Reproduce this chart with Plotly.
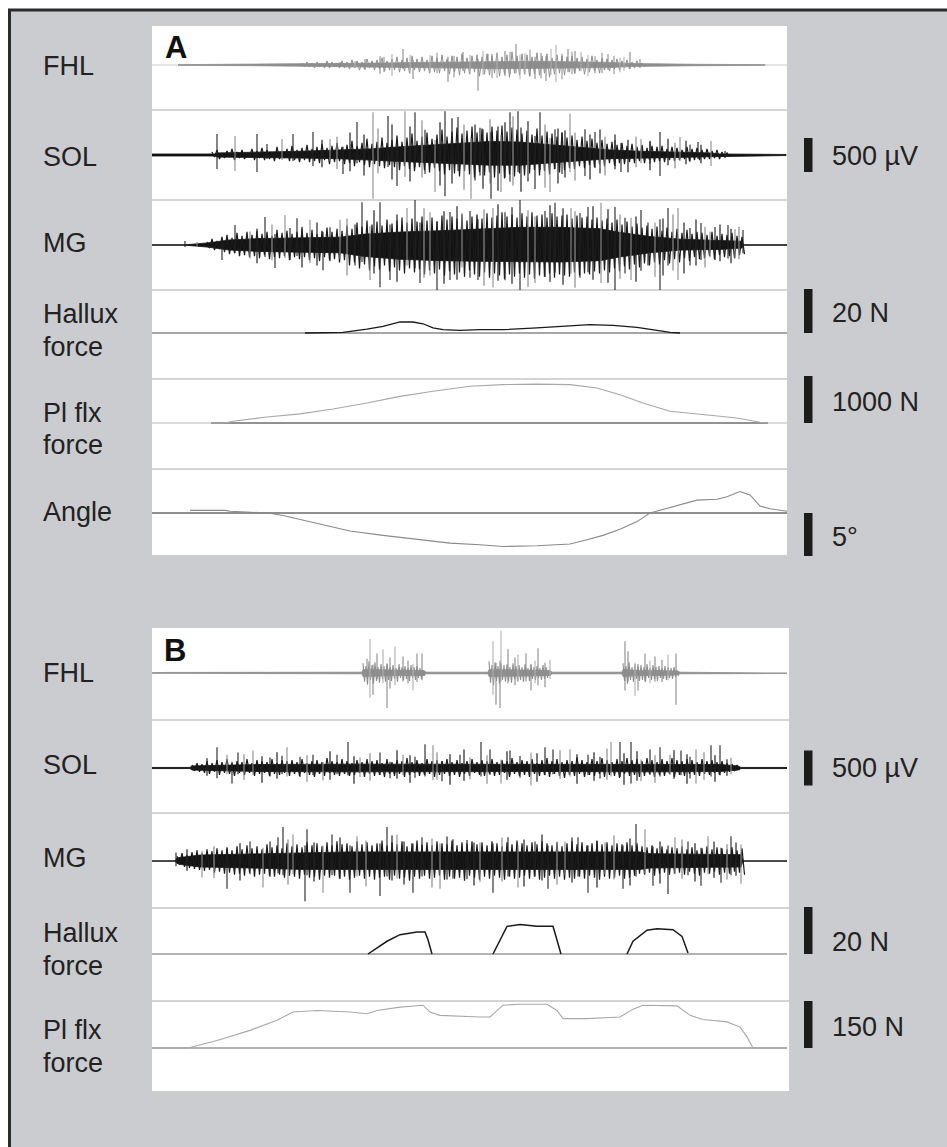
import plotly.graph_objects as go

# ================= data =================
# time: 10 ms ticks from the start of each window; EMG in µV, forces in N, angle in degrees
# ---------- Panel A ----------
a_fhl_core_t = [26, 98, 148, 198, 228, 268, 308, 348, 388, 428, 458, 478, 508, 548, 613]
a_fhl_core_amp = [5, 10, 15, 20, 28, 38, 45, 55, 55, 45, 38, 22, 15, 10, 5]
a_fhl_tex_start, a_fhl_tex_step = 150, 5
a_fhl_tex_hi = [30, 45, 30, 45, 30, 60, 45, 30, 60,
                45, 75, 60, 45, 90, 60, 75, 105, 60,
                90, 120, 75, 105, 135, 90, 120, 75, 135,
                105, 150, 90, 135, 120, 165, 105, 135, 150,
                120, 165, 135, 180, 120, 150, 195, 135, 165,
                150, 120, 180, 135, 165, 105, 150, 135, 120,
                135, 105, 120, 90, 135, 75, 105, 90, 75,
                90, 60, 75, 45, 60, 30]
a_fhl_tex_lo = [30, 30, 45, 30, 45, 45, 30, 45, 45,
                60, 45, 75, 60, 45, 75, 60, 90, 75,
                75, 105, 90, 120, 75, 105, 90, 120, 105,
                120, 90, 135, 105, 150, 120, 135, 105, 165,
                135, 150, 120, 165, 135, 180, 120, 150, 135,
                165, 135, 150, 120, 180, 135, 120, 150, 105,
                120, 90, 135, 105, 90, 120, 75, 90, 60,
                75, 45, 60, 45, 30, 30]
a_fhl_spk_t = [188, 203, 213, 228, 240, 251, 261, 278, 296, 311, 318, 326, 336, 345, 353, 364, 373, 383, 394, 404, 416, 423, 429, 443, 456, 468, 478, 488]
a_fhl_spk_hi = [45, 60, 90, 130, 160, 235, 75, 145, 120, 190, 150, 90, 160, 175, 205, 310, 175, 120, 130, 295, 235, 205, 190, 130, 160, 105, 190, 90]
a_fhl_spk_lo = [30, 45, 75, 130, 160, 60, 205, 120, 250, 90, 130, 380, 75, 190, 160, 120, 145, 205, 235, 250, 105, 130, 90, 120, 75, 105, 60, 45]
a_fhl_spk2_t = [232, 258, 285, 302, 331, 340, 358, 368, 378, 389, 399, 410, 420, 436, 450, 462, 472]
a_fhl_spk2_hi = [120, 150, 180, 135, 210, 165, 195, 150, 225, 180, 240, 165, 195, 150, 180, 135, 120]
a_fhl_spk2_lo = [105, 135, 120, 180, 150, 195, 135, 210, 165, 195, 150, 210, 135, 165, 120, 135, 90]

a_sol_core_t = [0, 63, 65, 108, 148, 188, 218, 248, 278, 308, 338, 368, 398, 428, 458, 488, 528, 559, 568, 634]
a_sol_core_hi = [15, 15, 30, 40, 55, 75, 90, 120, 150, 180, 200, 190, 150, 110, 75, 55, 45, 30, 15, 8]
a_sol_core_lo = [15, 15, 30, 40, 45, 55, 75, 95, 115, 135, 150, 150, 115, 85, 55, 45, 35, 25, 15, 8]
a_sol_tex_start, a_sol_tex_step = 60, 5
a_sol_tex_hi = [45, 75, 30, 60, 90, 45, 75, 30, 90,
                60, 105, 75, 45, 120, 60, 90, 135, 75,
                105, 150, 90, 120, 165, 105, 135, 180, 120,
                150, 210, 135, 180, 240, 165, 195, 255, 180,
                225, 285, 195, 255, 315, 210, 270, 330, 240,
                300, 375, 270, 345, 405, 315, 360, 420, 330,
                390, 330, 420, 360, 435, 345, 405, 375, 315,
                360, 300, 390, 285, 345, 315, 270, 330, 255,
                285, 225, 270, 210, 240, 180, 225, 165, 195,
                150, 180, 135, 165, 120, 150, 105, 135, 120,
                135, 90, 120, 105, 75, 120, 90, 105, 75,
                90, 60, 75, 45, 30]
a_sol_tex_lo = [30, 60, 45, 30, 75, 45, 60, 30, 75,
                45, 75, 60, 90, 60, 45, 90, 75, 105,
                75, 105, 90, 120, 75, 135, 105, 90, 135,
                120, 165, 105, 150, 180, 135, 165, 195, 150,
                180, 225, 165, 210, 240, 180, 225, 255, 195,
                240, 285, 225, 270, 315, 240, 285, 330, 255,
                300, 255, 330, 270, 345, 285, 315, 270, 300,
                270, 225, 300, 240, 285, 210, 255, 225, 195,
                210, 165, 195, 150, 180, 135, 165, 120, 150,
                120, 135, 105, 120, 90, 120, 75, 105, 90,
                105, 75, 90, 75, 60, 90, 75, 75, 60,
                60, 45, 60, 30, 30]
a_sol_spk_t = [65, 83, 105, 115, 130, 141, 161, 178, 191, 205, 221, 236, 245, 253, 263, 273, 283, 293, 306, 319, 328, 339, 349, 358, 366, 376, 383, 388, 398, 403, 410, 418, 433, 443, 448, 463, 469, 489, 498, 508, 528, 538, 546, 559, 573]
a_sol_spk_hi = [310, 280, 310, 160, 235, 310, 340, 235, 120, 485, 630, 575, 175, 645, 630, 370, 220, 645, 560, 250, 400, 340, 295, 630, 645, 420, 280, 630, 250, 380, 330, 605, 380, 340, 250, 220, 175, 235, 190, 340, 265, 150, 190, 205, 60]
a_sol_spk_lo = [205, 235, 250, 60, 75, 90, 160, 90, 280, 120, 645, 175, 455, 325, 175, 280, 545, 605, 235, 645, 300, 645, 545, 395, 250, 330, 500, 220, 545, 205, 280, 250, 310, 190, 200, 160, 250, 120, 130, 310, 90, 100, 60, 160, 45]
a_sol_spk2_t = [170, 185, 198, 212, 226, 240, 258, 270, 288, 300, 312, 323, 331, 338, 346, 353, 361, 369, 376, 393, 406, 413, 423, 438, 448, 453, 463, 476, 484, 498, 516, 523, 534, 549]
a_sol_spk2_hi = [225, 270, 330, 300, 390, 450, 420, 510, 480, 540, 450, 450, 375, 525, 420, 480, 570, 405, 495, 450, 390, 360, 330, 300, 375, 270, 300, 225, 270, 210, 240, 180, 210, 150]
a_sol_spk2_lo = [180, 210, 240, 300, 270, 360, 390, 330, 450, 420, 510, 375, 495, 420, 525, 330, 450, 540, 390, 480, 420, 330, 375, 360, 270, 300, 210, 255, 180, 225, 150, 195, 135, 120]

a_mg_core_t = [0, 31, 55, 78, 108, 148, 188, 213, 248, 288, 328, 368, 408, 448, 466, 498, 529, 568, 590, 591, 635]
a_mg_core_hi = [0, 0, 30, 75, 95, 105, 115, 160, 190, 210, 240, 260, 260, 240, 190, 125, 85, 65, 55, 0, 0]
a_mg_core_lo = [0, 0, 30, 75, 95, 105, 115, 170, 210, 230, 240, 250, 250, 230, 180, 115, 75, 65, 45, 0, 0]
a_mg_tex_start, a_mg_tex_step = 55, 5
a_mg_tex_hi = [45, 90, 60, 120, 150, 105, 180, 135, 195,
               150, 210, 165, 195, 135, 225, 180, 210, 165,
               195, 240, 180, 225, 165, 210, 255, 195, 240,
               210, 285, 240, 330, 270, 360, 300, 345, 285,
               375, 315, 360, 405, 330, 390, 345, 420, 360,
               405, 345, 435, 375, 420, 390, 450, 360, 420,
               450, 390, 465, 405, 435, 480, 420, 450, 405,
               465, 420, 480, 435, 450, 405, 465, 420, 435,
               450, 390, 435, 405, 420, 375, 405, 360, 390,
               330, 375, 300, 345, 270, 315, 255, 285, 240,
               270, 210, 255, 195, 240, 180, 225, 165, 195,
               180, 150, 195, 135, 165, 150, 180, 135, 120]
a_mg_tex_lo = [45, 75, 60, 105, 135, 120, 165, 150, 180,
               165, 195, 150, 210, 180, 195, 165, 225, 180,
               210, 180, 225, 195, 240, 180, 225, 210, 255,
               225, 300, 255, 345, 285, 375, 315, 360, 300,
               390, 330, 375, 420, 345, 405, 360, 435, 375,
               420, 360, 450, 390, 435, 405, 465, 375, 435,
               465, 405, 480, 420, 450, 495, 435, 465, 420,
               480, 435, 495, 450, 465, 420, 480, 435, 450,
               465, 405, 450, 420, 435, 390, 420, 375, 405,
               345, 390, 315, 360, 285, 330, 270, 300, 255,
               285, 225, 270, 210, 255, 195, 240, 180, 210,
               195, 165, 210, 150, 180, 165, 195, 150, 135]
a_mg_spk_t = [33, 45, 70, 83, 98, 113, 123, 133, 138, 145, 158, 171, 178, 188, 203, 210, 218, 228, 238, 255, 263, 268, 278, 285, 298, 310, 318, 326, 341, 353, 368, 383, 393, 403, 419, 428, 436, 449, 463, 473, 479, 489, 496, 503, 508, 516, 526, 538, 549, 558, 563, 576, 583, 591]
a_mg_spk_hi = [60, 45, 90, 295, 200, 410, 160, 440, 250, 395, 370, 190, 260, 370, 300, 630, 280, 630, 300, 545, 660, 330, 480, 350, 485, 470, 500, 380, 545, 480, 660, 420, 500, 620, 545, 470, 560, 620, 560, 400, 400, 515, 330, 330, 380, 545, 545, 250, 325, 200, 265, 295, 230, 220]
a_mg_spk_lo = [30, 30, 220, 120, 200, 175, 340, 190, 220, 160, 265, 370, 240, 205, 300, 250, 515, 620, 515, 300, 340, 560, 450, 660, 515, 330, 480, 515, 620, 520, 660, 560, 470, 400, 420, 480, 400, 560, 660, 420, 515, 380, 300, 470, 660, 300, 515, 300, 220, 180, 220, 200, 200, 120]
a_mg_spk2_t = [105, 120, 150, 165, 195, 222, 245, 272, 292, 305, 332, 346, 360, 376, 398, 411, 423, 441, 456, 468, 484, 511, 521, 532, 544, 553, 568, 579, 587]
a_mg_spk2_hi = [240, 300, 270, 330, 390, 510, 450, 540, 495, 570, 525, 600, 555, 510, 585, 540, 495, 570, 525, 450, 420, 390, 450, 330, 375, 270, 300, 240, 270]
a_mg_spk2_lo = [270, 225, 330, 300, 450, 420, 540, 480, 570, 510, 600, 525, 570, 615, 540, 585, 630, 510, 555, 495, 540, 450, 375, 420, 300, 330, 240, 270, 210]

a_hal_t = [153, 188, 191, 215, 231, 248, 261, 271, 281, 291, 308, 328, 351, 385, 418, 438, 461, 485, 505, 518, 528]
a_hal_n = [0, 0, 0.3, 1.8, 3.0, 5.1, 5.0, 4.2, 2.3, 1.5, 1.2, 1.5, 1.5, 2.3, 3.3, 3.8, 3.5, 2.6, 1.2, 0.3, 0]

a_plf_t = [59, 73, 81, 115, 148, 181, 215, 248, 281, 318, 351, 385, 418, 445, 468, 491, 518, 551, 585, 608, 616]
a_plf_n = [0, 0, 35, 125, 190, 290, 415, 555, 660, 765, 800, 810, 800, 730, 590, 415, 245, 175, 105, 15, 0]

a_ang_t = [38, 73, 78, 116, 131, 165, 198, 231, 265, 298, 328, 351, 385, 418, 435, 451, 468, 485, 498, 518, 545, 565, 575, 588, 598, 608, 618, 635]
a_ang_deg = [0.3, 0.3, 0.2, 0, -0.3, -1.2, -2.1, -2.6, -3.1, -3.5, -3.7, -3.9, -3.8, -3.6, -3.1, -2.6, -1.9, -1.0, 0, 0.6, 1.5, 1.6, 1.9, 2.5, 2.1, 0.8, 0.5, 0.2]

# ---------- Panel B ----------
b_fhl_core_t = [0, 13, 208, 210, 211, 228, 248, 272, 274, 336, 337, 358, 378, 398, 400, 470, 471, 488, 508, 526, 528, 613, 637]
b_fhl_core_amp = [4, 8, 12, 12, 50, 45, 35, 35, 12, 12, 50, 45, 35, 35, 12, 12, 50, 35, 35, 25, 12, 8, 4]
b_fhl_burst_start = [211, 337, 471]
b_fhl_burst_step = 3
b_fhl_b1_hi = [140, 98, 168, 112, 154, 84, 126, 98, 140, 84, 112, 70, 126, 84, 98, 70, 112, 84, 98, 70, 42]
b_fhl_b1_lo = [126, 168, 98, 154, 112, 140, 84, 126, 98, 112, 84, 126, 70, 98, 84, 112, 70, 98, 70, 84, 42]
b_fhl_b2_hi = [168, 112, 154, 98, 140, 112, 126, 84, 140, 98, 112, 84, 126, 70, 112, 84, 98, 70, 112, 84, 42]
b_fhl_b2_lo = [140, 182, 112, 154, 98, 126, 112, 140, 84, 112, 98, 126, 70, 112, 84, 98, 70, 98, 84, 70, 42]
b_fhl_b3_hi = [140, 98, 154, 84, 126, 98, 112, 84, 126, 70, 112, 84, 98, 70, 98, 84, 70, 84, 42]
b_fhl_b3_lo = [112, 154, 98, 126, 84, 112, 98, 126, 70, 98, 84, 112, 70, 84, 98, 70, 84, 56, 42]
b_fhl_spk_t = [215, 218, 221, 225, 231, 235, 238, 243, 251, 256, 261, 265, 270, 341, 344, 348, 349, 356, 363, 366, 374, 379, 383, 386, 393, 398, 473, 476, 483, 486, 493, 498, 503, 510, 516, 524]
b_fhl_spk_hi = [205, 485, 120, 280, 340, 120, 220, 380, 235, 175, 130, 280, 280, 455, 145, 175, 605, 340, 220, 265, 280, 130, 175, 355, 145, 190, 455, 310, 145, 130, 280, 175, 235, 190, 265, 280]
b_fhl_spk_lo = [45, 355, 310, 90, 145, 500, 220, 175, 120, 145, 250, 130, 105, 310, 455, 500, 120, 145, 175, 130, 120, 250, 145, 175, 205, 90, 250, 120, 325, 250, 120, 145, 120, 130, 105, 455]

b_sol_core_t = [0, 38, 40, 68, 108, 200, 300, 400, 500, 568, 586, 589, 637]
b_sol_core_amp = [8, 8, 30, 40, 50, 55, 55, 50, 55, 50, 30, 8, 8]
b_sol_tex_start, b_sol_tex_step = 40, 5
b_sol_tex_hi = [42, 70, 56, 98, 70, 112, 84, 126, 70, 98,
                84, 126, 70, 112, 98, 84, 126, 70, 112, 98,
                112, 84, 126, 70, 98, 112, 84, 140, 98, 84,
                126, 98, 70, 112, 84, 126, 98, 112, 70, 126,
                84, 112, 98, 140, 84, 112, 70, 126, 98, 112,
                98, 126, 84, 112, 70, 98, 126, 84, 112, 98,
                126, 84, 112, 98, 140, 84, 112, 98, 126, 70,
                112, 140, 98, 126, 84, 112, 98, 154, 112, 84,
                126, 98, 140, 112, 84, 126, 98, 140, 112, 126,
                98, 140, 112, 84, 126, 98, 140, 112, 98, 126,
                112, 84, 126, 98, 112, 84, 98, 70, 56, 42]
b_sol_tex_lo = [42, 56, 70, 84, 56, 98, 70, 84, 112, 70,
                98, 70, 112, 84, 70, 112, 84, 98, 70, 112,
                84, 112, 70, 98, 126, 84, 112, 70, 98, 112,
                84, 112, 98, 70, 126, 84, 112, 98, 126, 84,
                112, 84, 126, 98, 70, 112, 98, 84, 126, 98,
                84, 112, 98, 126, 84, 112, 70, 98, 112, 84,
                112, 98, 70, 126, 84, 112, 98, 126, 84, 112,
                98, 126, 84, 112, 140, 98, 112, 84, 126, 98,
                112, 84, 126, 98, 112, 140, 84, 112, 98, 126,
                112, 84, 126, 98, 112, 84, 126, 98, 112, 84,
                98, 112, 84, 98, 70, 98, 70, 56, 42, 28]
b_sol_spk_t = [65, 75, 80, 86, 101, 118, 130, 135, 148, 161, 171, 185, 196, 208, 228, 238, 251, 263, 273, 281, 290, 308, 318, 329, 338, 349, 358, 368, 379, 393, 401, 418, 436, 448, 459, 468, 479, 489, 498, 508, 518, 529, 538, 544, 559, 568, 579]
b_sol_spk_hi = [295, 190, 90, 220, 250, 150, 175, 295, 160, 190, 90, 190, 370, 150, 220, 90, 190, 160, 340, 325, 100, 190, 150, 370, 265, 120, 250, 170, 220, 295, 265, 265, 190, 160, 370, 370, 370, 120, 265, 295, 190, 250, 160, 265, 325, 325, 145]
b_sol_spk_lo = [145, 90, 220, 90, 100, 120, 90, 120, 130, 100, 175, 90, 105, 130, 100, 145, 100, 140, 120, 175, 190, 90, 160, 120, 100, 220, 100, 140, 250, 105, 90, 120, 100, 150, 120, 130, 220, 190, 100, 120, 100, 105, 150, 220, 120, 105, 90]
b_sol_spk2_t = [55, 92, 110, 125, 155, 178, 202, 218, 245, 258, 285, 298, 312, 335, 355, 385, 408, 425, 442, 455, 472, 485, 503, 522, 535, 552, 563, 575]
b_sol_spk2_hi = [140, 196, 168, 224, 182, 238, 168, 210, 252, 182, 224, 196, 266, 182, 238, 210, 252, 196, 224, 280, 210, 238, 182, 252, 196, 224, 182, 126]
b_sol_spk2_lo = [112, 168, 210, 154, 196, 168, 224, 182, 154, 210, 168, 238, 182, 224, 168, 196, 154, 224, 182, 168, 238, 182, 210, 154, 224, 168, 196, 112]

b_mg_core_t = [0, 23, 25, 31, 48, 98, 148, 198, 268, 348, 448, 488, 498, 529, 568, 589, 591, 637]
b_mg_core_hi = [0, 0, 45, 55, 85, 100, 120, 130, 130, 130, 130, 130, 105, 100, 95, 90, 0, 0]
b_mg_core_lo = [0, 0, 35, 55, 85, 100, 120, 130, 120, 120, 120, 120, 100, 95, 90, 85, 0, 0]
b_mg_tex_start, b_mg_tex_step = 25, 5
b_mg_tex_hi = [70, 112, 84, 126, 154, 112, 168, 140, 182, 154,
               196, 154, 210, 168, 224, 182, 210, 168, 238, 196,
               224, 182, 252, 210, 238, 196, 266, 224, 252, 210,
               266, 224, 280, 238, 252, 210, 280, 238, 266, 224,
               252, 294, 224, 266, 238, 280, 210, 252, 294, 238,
               266, 224, 280, 252, 238, 294, 224, 266, 252, 280,
               238, 266, 224, 280, 252, 210, 266, 238, 294, 252,
               224, 266, 238, 280, 252, 224, 266, 210, 252, 280,
               238, 266, 224, 252, 280, 238, 266, 224, 252, 238,
               266, 224, 252, 210, 196, 224, 182, 210, 168, 196,
               182, 210, 168, 196, 154, 182, 210, 168, 196, 182,
               168, 196, 154, 182]
b_mg_tex_lo = [56, 84, 98, 112, 126, 140, 126, 168, 154, 182,
               168, 196, 182, 210, 168, 224, 196, 182, 210, 224,
               196, 238, 210, 224, 252, 196, 238, 224, 266, 210,
               238, 210, 252, 224, 266, 238, 210, 252, 224, 266,
               238, 224, 266, 210, 252, 238, 280, 224, 252, 210,
               252, 238, 210, 266, 224, 252, 238, 280, 210, 238,
               266, 224, 252, 210, 238, 266, 224, 252, 238, 210,
               252, 224, 266, 238, 210, 252, 224, 266, 238, 252,
               224, 252, 210, 238, 266, 224, 252, 238, 210, 252,
               238, 210, 182, 196, 168, 210, 182, 168, 196, 182,
               168, 196, 154, 182, 210, 168, 182, 154, 196, 168,
               182, 154, 168, 196]
b_mg_spk_t = [24, 50, 75, 98, 111, 126, 131, 141, 153, 155, 171, 180, 198, 205, 228, 235, 245, 261, 270, 288, 301, 315, 328, 341, 356, 366, 383, 396, 413, 426, 436, 453, 471, 484, 493, 501, 516, 523, 536, 549, 556, 569, 579, 589]
b_mg_spk_hi = [120, 145, 175, 280, 190, 340, 485, 380, 220, 455, 220, 380, 220, 355, 250, 485, 380, 250, 340, 250, 310, 300, 260, 250, 340, 220, 280, 220, 280, 340, 220, 265, 220, 530, 455, 205, 220, 340, 280, 190, 355, 190, 355, 235]
b_mg_spk_lo = [75, 235, 395, 190, 380, 175, 205, 190, 575, 205, 455, 205, 455, 220, 500, 220, 250, 455, 220, 395, 250, 260, 300, 455, 220, 380, 220, 395, 205, 220, 455, 190, 395, 220, 190, 355, 470, 190, 205, 355, 190, 310, 205, 325]
b_mg_spk2_t = [35, 62, 88, 118, 136, 162, 188, 214, 240, 252, 280, 295, 322, 350, 372, 390, 405, 420, 445, 462, 478, 508, 530, 543, 562, 575, 584]
b_mg_spk2_hi = [168, 210, 252, 280, 308, 266, 336, 294, 364, 280, 322, 350, 266, 336, 308, 378, 280, 336, 294, 364, 322, 280, 308, 252, 280, 238, 266]
b_mg_spk2_lo = [140, 238, 280, 224, 336, 294, 252, 364, 280, 336, 378, 266, 350, 294, 364, 280, 336, 308, 378, 266, 350, 322, 252, 294, 238, 266, 210]

b_hal_t = [216, 225, 235, 248, 265, 273, 276, 280, None, 341, 348, 355, 368, 385, 401, 405, 409, None, 475, 481, 495, 505, 521, 530, 536]
b_hal_n = [0, 2.4, 5.2, 7.9, 9.0, 9.0, 5.8, 0, None, 0, 5.8, 11.3, 12.0, 11.3, 11.3, 5.8, 0, None, 0, 5.2, 9.7, 10.3, 9.9, 7.2, 0.4]

b_plf_t = [0, 36, 65, 98, 125, 141, 165, 198, 215, 225, 248, 271, 278, 288, 328, 338, 351, 368, 395, 405, 411, 435, 468, 481, 491, 525, 538, 551, 575, 588, 595, 601, 637]
b_plf_n = [0, 0, 23, 54, 85, 110, 115, 110, 105, 115, 125, 131, 110, 100, 95, 95, 131, 134, 134, 115, 90, 90, 95, 119, 131, 129, 100, 87, 80, 64, 34, 0, 0]

row_labels = ["FHL", "SOL", "MG", "Hallux", "force", "Pl flx", "force", "Angle",
              "FHL", "SOL", "MG", "Hallux", "force", "Pl flx", "force"]
scale_texts = ["500 µV", "20 N", "1000 N", "5°", "500 µV", "20 N", "150 N"]
scale_values = [500, 20, 1000, 5, 500, 20, 150]

# ================= layout helpers =================
W, H = 947, 1147
def fy(p):
    return 1 - p / H
def fx(p):
    return p / W

HH = 47  # half height of each strip (px)
rows = [  # (baseline px, units per px)
    (65, 500 / 34), (155, 500 / 34), (245, 500 / 34),
    (333, 20 / 44), (423, 1000 / 48), (513, 5 / 43),
    (673, 500 / 35), (768, 500 / 35), (861, 500 / 35),
    (954, 20 / 49), (1048, 150 / 49),
]

fig = go.Figure()
layout_axes = {}
for i, (yc, k) in enumerate(rows):
    name = "yaxis" if i == 0 else f"yaxis{i + 1}"
    layout_axes[name] = dict(domain=[fy(yc + HH), fy(yc - HH)], range=[-HH * k, HH * k],
                             visible=False, fixedrange=True, anchor="x")
def yref(i):
    return "y" if i == 0 else f"y{i + 1}"


def add_core(i, t, hi, lo, col):
    fig.add_trace(go.Scatter(x=t + t[::-1], y=hi + [-v for v in lo[::-1]], mode="lines",
                             fill="toself", fillcolor=col, line=dict(color=col, width=0.8),
                             yaxis=yref(i), hoverinfo="skip", showlegend=False))

def add_texture(i, start, step, hi, lo, col, width=1.2):
    xs, ys = [], []
    for j, (h, l) in enumerate(zip(hi, lo)):
        t0 = start + step * j
        xs += [t0, t0 + step / 2]
        ys += [h, -l]
    fig.add_trace(go.Scatter(x=xs, y=ys, mode="lines", line=dict(color=col, width=width),
                             yaxis=yref(i), hoverinfo="skip", showlegend=False))

def add_spikes(i, spk_t, spk_hi, spk_lo, dark_col, light_col, width=1.1):
    for grp, col in ((1, light_col), (0, dark_col)):
        xs, ys = [], []
        for j, (ti, h, l) in enumerate(zip(spk_t, spk_hi, spk_lo)):
            if (j % 3 == 1) == bool(grp):
                xs += [ti, ti, None]
                ys += [-l, h, None]
        fig.add_trace(go.Scatter(x=xs, y=ys, mode="lines", line=dict(color=col, width=width),
                                 yaxis=yref(i), hoverinfo="skip", showlegend=False))

def add_line(i, t, v, col, width):
    fig.add_trace(go.Scatter(x=t, y=v, mode="lines", line=dict(color=col, width=width),
                             yaxis=yref(i), hoverinfo="skip", showlegend=False,
                             connectgaps=False))

shapes = []
shapes.append(dict(type="rect", xref="paper", yref="paper", x0=fx(8), x1=1, y0=0, y1=fy(9),
                   fillcolor="#cbcccf", line=dict(width=0), layer="below"))
shapes.append(dict(type="line", xref="paper", yref="paper", x0=fx(8), x1=1, y0=fy(10), y1=fy(10),
                   line=dict(color="#2b2b2b", width=3), layer="below"))
shapes.append(dict(type="line", xref="paper", yref="paper", x0=fx(9.5), x1=fx(9.5), y0=0, y1=fy(9),
                   line=dict(color="#2b2b2b", width=3), layer="below"))
for (x0, x1, y0, y1) in [(152, 787, 26, 555), (152, 789, 628, 1091)]:
    shapes.append(dict(type="rect", xref="paper", yref="paper", x0=fx(x0), x1=fx(x1),
                       y0=fy(y1), y1=fy(y0), fillcolor="white", line=dict(width=0), layer="below"))
for (yy, x1) in [(110, 787), (200, 787), (290, 787), (379, 787), (469, 787),
                 (720, 789), (813, 789), (908, 789), (1001, 789)]:
    shapes.append(dict(type="line", xref="paper", yref="paper", x0=fx(152), x1=fx(x1),
                       y0=fy(yy), y1=fy(yy), line=dict(color="#c4c6c8", width=1.6), layer="below"))
base_cols = ["#dddddd", "#d8d8d8", "#777777", "#8a8a8a", "#d0d0d0", "#6a6a6a",
             "#dddddd", "#888888", "#999999", "#999999", "#9a9a9a"]
for i, col in enumerate(base_cols):
    shapes.append(dict(type="line", xref="x", yref=yref(i), x0=0, x1=635 if i < 6 else 637,
                       y0=0, y1=0, line=dict(color=col, width=1.3), layer="below"))
shapes.append(dict(type="line", xref="x", yref=yref(4), x0=a_plf_t[0], x1=a_plf_t[-1], y0=0, y1=0,
                   line=dict(color="#7a7a7a", width=1.3), layer="below"))

bar_axes = [1, 3, 4, 5, 7, 9, 10]
bar_mode = ["mid", "up", "up", "down", "mid", "up", "up"]
for val, ax, md in zip(scale_values, bar_axes, bar_mode):
    if md == "mid":
        y0, y1 = -val / 2, val / 2
    elif md == "up":
        y0, y1 = 0, val
    else:
        y0, y1 = -val, 0
    shapes.append(dict(type="rect", xref="paper", yref=yref(ax), x0=fx(804), x1=fx(812.5),
                       y0=y0, y1=y1, fillcolor="#1c1c1c", line=dict(width=0)))

# ================= traces =================
GRAY_CORE, GRAY_TEX, GRAY_SPK, GRAY_SPK2 = "#8e8e8e", "#8f8f8f", "#8a8a8a", "#b0b0b0"
BLK_CORE, BLK_TEX, BLK_SPK, BLK_SPK2 = "#121212", "#1a1a1a", "#222222", "#8c8c8c"

# A
add_core(0, a_fhl_core_t, a_fhl_core_amp, a_fhl_core_amp, GRAY_CORE)
add_texture(0, a_fhl_tex_start, a_fhl_tex_step, a_fhl_tex_hi, a_fhl_tex_lo, GRAY_TEX, 1.0)
add_spikes(0, a_fhl_spk2_t, a_fhl_spk2_hi, a_fhl_spk2_lo, GRAY_SPK, GRAY_SPK2, 1.0)
add_spikes(0, a_fhl_spk_t, a_fhl_spk_hi, a_fhl_spk_lo, GRAY_SPK, GRAY_SPK2)

add_core(1, a_sol_core_t, a_sol_core_hi, a_sol_core_lo, BLK_CORE)
add_texture(1, a_sol_tex_start, a_sol_tex_step, a_sol_tex_hi, a_sol_tex_lo, BLK_TEX)
add_spikes(1, a_sol_spk2_t, a_sol_spk2_hi, a_sol_spk2_lo, BLK_SPK, BLK_SPK2, 1.2)
add_spikes(1, a_sol_spk_t, a_sol_spk_hi, a_sol_spk_lo, BLK_SPK, BLK_SPK2)

add_core(2, a_mg_core_t, a_mg_core_hi, a_mg_core_lo, BLK_CORE)
add_texture(2, a_mg_tex_start, a_mg_tex_step, a_mg_tex_hi, a_mg_tex_lo, BLK_TEX)
add_spikes(2, a_mg_spk2_t, a_mg_spk2_hi, a_mg_spk2_lo, BLK_SPK, BLK_SPK2, 1.2)
add_spikes(2, a_mg_spk_t, a_mg_spk_hi, a_mg_spk_lo, BLK_SPK, BLK_SPK2)

add_line(3, a_hal_t, a_hal_n, "#1a1a1a", 1.3)
add_line(4, a_plf_t, a_plf_n, "#a8a8a8", 1.1)
add_line(5, a_ang_t, a_ang_deg, "#8a8a8a", 1.1)

# B
add_core(6, b_fhl_core_t, b_fhl_core_amp, b_fhl_core_amp, GRAY_CORE)
for st, hi, lo in zip(b_fhl_burst_start, [b_fhl_b1_hi, b_fhl_b2_hi, b_fhl_b3_hi],
                      [b_fhl_b1_lo, b_fhl_b2_lo, b_fhl_b3_lo]):
    add_texture(6, st, b_fhl_burst_step, hi, lo, GRAY_TEX, 1.1)
add_spikes(6, b_fhl_spk_t, b_fhl_spk_hi, b_fhl_spk_lo, GRAY_SPK, GRAY_SPK2)

add_core(7, b_sol_core_t, b_sol_core_amp, b_sol_core_amp, BLK_CORE)
add_texture(7, b_sol_tex_start, b_sol_tex_step, b_sol_tex_hi, b_sol_tex_lo, BLK_TEX)
add_spikes(7, b_sol_spk2_t, b_sol_spk2_hi, b_sol_spk2_lo, BLK_SPK, BLK_SPK2, 1.2)
add_spikes(7, b_sol_spk_t, b_sol_spk_hi, b_sol_spk_lo, BLK_SPK, BLK_SPK2)

add_core(8, b_mg_core_t, b_mg_core_hi, b_mg_core_lo, BLK_CORE)
add_texture(8, b_mg_tex_start, b_mg_tex_step, b_mg_tex_hi, b_mg_tex_lo, BLK_TEX)
add_spikes(8, b_mg_spk2_t, b_mg_spk2_hi, b_mg_spk2_lo, BLK_SPK, BLK_SPK2, 1.2)
add_spikes(8, b_mg_spk_t, b_mg_spk_hi, b_mg_spk_lo, BLK_SPK, BLK_SPK2)

add_line(9, b_hal_t, b_hal_n, "#1a1a1a", 1.5)
add_line(10, b_plf_t, b_plf_n, "#a8a8a8", 1.1)

# ================= text =================
FONT = "Liberation Sans, Arial, sans-serif"
label_y = [66, 156.5, 243, 314, 347, 412.5, 445, 512,
           672.5, 764.5, 857.5, 932.5, 965.5, 1030, 1062.5]
annotations = []
for txt, yy in zip(row_labels, label_y):
    annotations.append(dict(text=txt, xref="paper", yref="paper", x=fx(41), y=fy(yy),
                            xanchor="left", yanchor="middle", showarrow=False,
                            font=dict(family=FONT, size=27, color="#222222")))
scale_y = [156, 312.5, 402, 537, 767.5, 942, 1027]
for txt, yy in zip(scale_texts, scale_y):
    annotations.append(dict(text=txt, xref="paper", yref="paper", x=fx(830), y=fy(yy),
                            xanchor="left", yanchor="middle", showarrow=False,
                            font=dict(family=FONT, size=27, color="#222222")))
for txt, xx, yy in [("A", 163, 47), ("B", 162, 650)]:
    annotations.append(dict(text=f"<b>{txt}</b>", xref="paper", yref="paper", x=fx(xx), y=fy(yy),
                            xanchor="left", yanchor="middle", showarrow=False,
                            font=dict(family=FONT, size=31, color="#111111")))

fig.update_layout(
    width=W, height=H, margin=dict(l=0, r=0, t=0, b=0),
    paper_bgcolor="white", plot_bgcolor="rgba(0,0,0,0)",
    xaxis=dict(domain=[fx(152), fx(787)], range=[0, 635], visible=False, fixedrange=True),
    shapes=shapes, annotations=annotations, showlegend=False,
    **layout_axes,
)

fig.write_html("out.html")
